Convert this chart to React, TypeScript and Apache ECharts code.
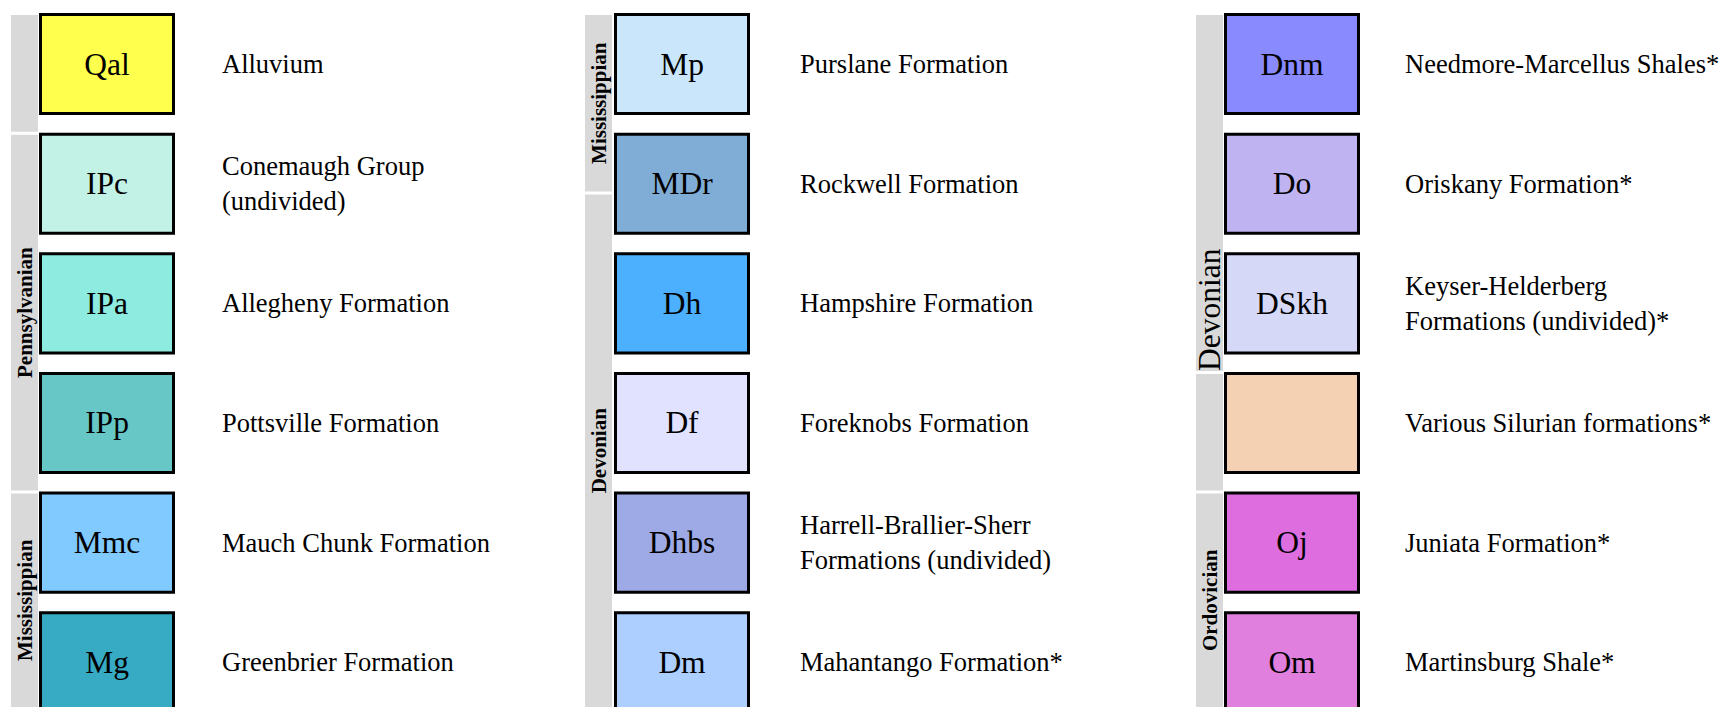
import React, { useEffect, useRef } from "react";
import * as echarts from "echarts";

// ---------- data ----------
const unitCodes = [
  "Qal", "IPc", "IPa", "IPp", "Mmc", "Mg",
  "Mp", "MDr", "Dh", "Df", "Dhbs", "Dm",
  "Dnm", "Do", "DSkh", "", "Oj", "Om",
];
const unitNames = [
  "Alluvium",
  "Conemaugh Group\n(undivided)",
  "Allegheny Formation",
  "Pottsville Formation",
  "Mauch Chunk Formation",
  "Greenbrier Formation",
  "Purslane Formation",
  "Rockwell Formation",
  "Hampshire Formation",
  "Foreknobs Formation",
  "Harrell-Brallier-Sherr\nFormations (undivided)",
  "Mahantango Formation*",
  "Needmore-Marcellus Shales*",
  "Oriskany Formation*",
  "Keyser-Helderberg\nFormations (undivided)*",
  "Various Silurian formations*",
  "Juniata Formation*",
  "Martinsburg Shale*",
];
const unitColumn = [0, 0, 0, 0, 0, 0, 1, 1, 1, 1, 1, 1, 2, 2, 2, 2, 2, 2];
const unitRow = [0, 1, 2, 3, 4, 5, 0, 1, 2, 3, 4, 5, 0, 1, 2, 3, 4, 5];

const periodNames = ["", "Pennsylvanian", "Mississippian", "Mississippian", "Devonian", "Devonian", "", "Ordovician"];
const periodColumn = [0, 0, 0, 1, 1, 2, 2, 2];
const periodStartRow = [0, 1, 4, 0, 1.5, 0, 3, 4];
const periodEndRow = [1, 4, 6, 1.5, 6, 3, 4, 6];

// ---------- styles / layout ----------
const UNIT_COLORS = [
  "#FFFF4D", "#C2F2E6", "#8EEBE0", "#66C7C6", "#80CAFF", "#38ABC4",
  "#C9E6FA", "#80ADD6", "#4DB0FF", "#E0E2FF", "#9EAAE6", "#ADCFFF",
  "#8A8AFF", "#BFB3F2", "#D5D8F7", "#F5D1B3", "#DE6EE0", "#E07FDD",
];
const PERIOD_LABEL_LARGE = [false, false, false, false, false, true, false, false];
const FONT = '"Liberation Serif", "Times New Roman", serif';
const W = 1720;
const H = 707;
const COL_GRAY_X = [11, 585, 1196];
const GRAY_W = 27;
const COL_BOX_X = [39, 614, 1224];
const BOX_W = 136;
const BOX_H_ROWS = 0.853;
const COL_TEXT_X = [222, 800, 1405];

export default function App() {
  const ref = useRef<HTMLDivElement>(null);

  useEffect(() => {
    if (!ref.current) return;
    const chart = echarts.init(ref.current, null, { renderer: "svg" });

    const unitData = unitCodes.map((c, i) => [unitColumn[i], unitRow[i]]);
    const periodData = periodNames.map((p, i) => [periodColumn[i], periodStartRow[i], periodEndRow[i]]);

    const option: any = {
      animation: false,
      backgroundColor: "#ffffff",
      grid: { left: 0, right: 0, top: 13, bottom: 0 },
      xAxis: { type: "value", min: 0, max: W, show: false },
      yAxis: { type: "value", min: 0, max: 5.8, inverse: true, show: false },
      series: [
        {
          type: "custom",
          clip: false,
          silent: true,
          data: periodData,
          encode: { x: 0, y: 1 },
          renderItem: (params: any, api: any) => {
            const i = params.dataIndex;
            const col = api.value(0);
            const start = api.value(1);
            const end = api.value(2);
            const gx = COL_GRAY_X[col];
            const y0 = api.coord([gx, start])[1] + 2;
            const y1 = Math.min(api.coord([gx, end])[1] - 1, H);
            const children: any[] = [
              {
                type: "rect",
                shape: { x: gx, y: y0, width: GRAY_W, height: y1 - y0 },
                style: { fill: "#D9D9D9" },
              },
            ];
            const name = periodNames[i];
            if (name) {
              const large = PERIOD_LABEL_LARGE[i];
              children.push({
                type: "text",
                x: gx + GRAY_W / 2,
                y: large ? y1 : (y0 + y1) / 2,
                rotation: Math.PI / 2,
                style: {
                  text: name,
                  fontFamily: FONT,
                  fontSize: large ? 31.5 : 21,
                  fontWeight: large ? "normal" : "bold",
                  fill: "#000",
                  align: large ? "left" : "center",
                  textAlign: large ? "left" : "center",
                  verticalAlign: "middle",
                  textVerticalAlign: "middle",
                },
              });
            }
            return { type: "group", children };
          },
        },
        {
          type: "custom",
          clip: false,
          silent: true,
          data: unitData,
          encode: { x: 0, y: 1 },
          renderItem: (params: any, api: any) => {
            const i = params.dataIndex;
            const col = api.value(0);
            const row = api.value(1);
            const bx = COL_BOX_X[col];
            const top = api.coord([bx, row]);
            const bottom = api.coord([bx, row + BOX_H_ROWS]);
            const x0 = top[0];
            const y0 = top[1];
            const y1 = bottom[1];
            const cy = (y0 + y1) / 2;
            const tx = api.coord([COL_TEXT_X[col], row])[0];
            return {
              type: "group",
              children: [
                {
                  type: "rect",
                  shape: { x: x0 + 1.5, y: y0 + 1.5, width: BOX_W - 3, height: y1 - y0 - 3 },
                  style: { fill: UNIT_COLORS[i], stroke: "#000000", lineWidth: 3 },
                },
                {
                  type: "text",
                  x: x0 + BOX_W / 2,
                  y: cy,
                  style: {
                    text: unitCodes[i],
                    fontFamily: FONT,
                    fontSize: 31.5,
                    fill: "#000",
                    align: "center",
                    textAlign: "center",
                    verticalAlign: "middle",
                    textVerticalAlign: "middle",
                  },
                },
                {
                  type: "text",
                  x: tx,
                  y: cy,
                  style: {
                    text: unitNames[i],
                    fontFamily: FONT,
                    fontSize: 26.5,
                    lineHeight: 35,
                    fill: "#000",
                    align: "left",
                    textAlign: "left",
                    verticalAlign: "middle",
                    textVerticalAlign: "middle",
                  },
                },
              ],
            };
          },
        },
      ],
    };

    chart.setOption(option);
    return () => chart.dispose();
  }, []);

  return (
    <div
      ref={ref}
      style={{ position: "absolute", left: 0, top: 0, width: W, height: H }}
    />
  );
}
